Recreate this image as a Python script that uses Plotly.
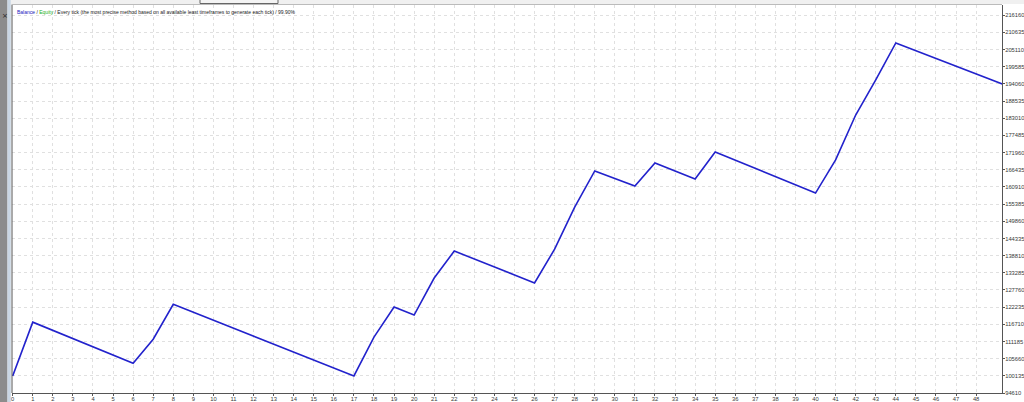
import plotly.graph_objects as go

# Trade index (x) and balance (y) at the vertices of the balance curve
trade_index = [0, 1, 6, 7, 8, 17, 18, 19, 20, 21, 22, 26, 27, 28, 29, 31, 32, 34, 35, 40, 41, 42, 43, 44, 50]
balance = [100100, 117400, 104200, 111900, 123150, 100100, 112600, 122300, 119700, 131600, 140300,
           130000, 140900, 154400, 166050, 161200, 168600, 163450, 172150, 158950, 169600, 184050,
           195350, 207250, 192300]

x_ticks = list(range(0, 49))
y_ticks = [94610 + 5525 * i for i in range(23)]
y_tick_labels = [str(v) for v in y_ticks]

W, H = 1024, 402
L, R, T, B = 12, 22, 5, 9
pw = W - L - R
ph = H - T - B

def px_x(p):
    return (p - L) / pw

def px_y(p):
    return 1 - (p - T) / ph

fig = go.Figure()
fig.add_trace(go.Scatter(
    x=trade_index, y=balance, mode="lines",
    line=dict(color="#2222cc", width=1.6),
    hoverinfo="skip", showlegend=False,
))

x_font = dict(family="Liberation Sans", size=5.8, color="#3a3a3a")
y_font = dict(family="Liberation Sans", size=5.8, color="#3a3a3a")
grid_color = "#e0e0e0"
fig.update_layout(
    width=W, height=H,
    margin=dict(l=L, r=R, t=T, b=B, autoexpand=False),
    paper_bgcolor="white", plot_bgcolor="white",
    xaxis=dict(
        range=[-0.035, 49.29], tickmode="array", tickvals=x_ticks,
        ticktext=[str(v) for v in x_ticks], tickfont=x_font,
        showgrid=True, gridcolor=grid_color, griddash="dot", gridwidth=1,
        showline=True, linecolor="#555555", linewidth=1,
        ticks="outside", ticklen=2, tickcolor="#555555",
        ticklabelstandoff=-2, automargin=False,
        zeroline=False, fixedrange=True,
    ),
    yaxis=dict(
        side="right", range=[94610, 219460], tickmode="array",
        tickvals=y_ticks, ticktext=y_tick_labels, tickfont=y_font,
        showgrid=True, gridcolor=grid_color, griddash="dot", gridwidth=1,
        showline=True, linecolor="#555555", linewidth=1,
        ticks="outside", ticklen=2, tickcolor="#555555",
        ticklabelstandoff=-1, automargin=False,
        zeroline=False, fixedrange=True,
    ),
)

shapes = [
    # left side strip
    dict(type="rect", xref="paper", yref="paper", x0=px_x(0), x1=px_x(7.5), y0=px_y(H), y1=px_y(0),
         fillcolor="#8c8c8c", line=dict(width=0), layer="above"),
    dict(type="rect", xref="paper", yref="paper", x0=px_x(7.5), x1=px_x(10.8), y0=px_y(H), y1=px_y(0),
         fillcolor="#c9d6e3", line=dict(width=0), layer="above"),
    # left border line
    dict(type="line", xref="paper", yref="paper", x0=px_x(12), x1=px_x(12), y0=px_y(393), y1=px_y(4.5),
         line=dict(color="#555555", width=1), layer="above"),
    # top light strip and border
    dict(type="rect", xref="paper", yref="paper", x0=px_x(11), x1=px_x(W), y0=px_y(4), y1=px_y(0),
         fillcolor="#f0f0f0", line=dict(width=0), layer="above"),
    dict(type="line", xref="paper", yref="paper", x0=px_x(12), x1=px_x(1002), y0=px_y(4.5), y1=px_y(4.5),
         line=dict(color="#bbbbbb", width=1), layer="above"),
    dict(type="rect", xref="paper", yref="paper", x0=px_x(200), x1=px_x(278), y0=px_y(3.5), y1=px_y(-2),
         fillcolor="#f4f4f4", line=dict(color="#666666", width=1), layer="above"),
]
fig.update_layout(shapes=shapes)

legend_text = ("<span style='color:#2020c0'>Balance</span> / "
               "<span style='color:#20b020'>Equity</span> / Every tick (the most precise method based on all "
               "available least timeframes to generate each tick) / 99.90%")
fig.add_annotation(
    xref="paper", yref="paper", x=px_x(15), y=px_y(12), xanchor="left", yanchor="middle",
    text=legend_text, showarrow=False,
    font=dict(family="Liberation Sans", size=5, color="#222222"),
)
fig.add_annotation(
    xref="paper", yref="paper", x=px_x(4.5), y=px_y(16), xanchor="center", yanchor="middle",
    text="×", showarrow=False, font=dict(family="DejaVu Sans", size=7, color="#222222"),
)

fig.write_html(
    "out.html",
    config={"displayModeBar": False, "staticPlot": True},
    post_script="document.body.style.margin='0';document.body.style.padding='0';"
                "document.documentElement.style.overflow='hidden';",
)
